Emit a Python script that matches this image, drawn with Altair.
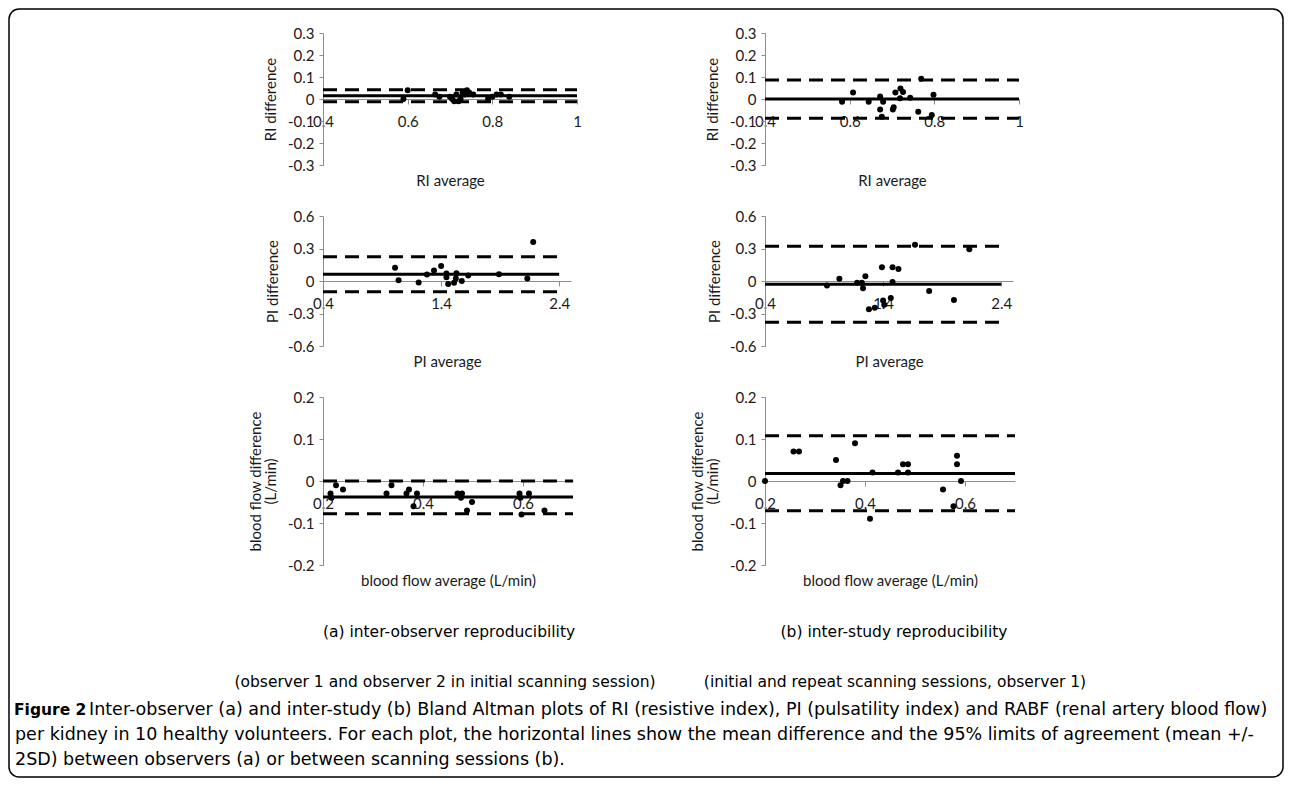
import altair as alt
import pandas as pd

FONT = "Lato"
CAP_FONT = "DejaVu Sans"

# ---------------- data ----------------
# (a) inter-observer, RI
ri_obs_x = [0.60, 0.59, 0.665, 0.675, 0.70, 0.705, 0.71, 0.715, 0.72, 0.725,
            0.73, 0.735, 0.74, 0.745, 0.755, 0.79, 0.80, 0.81, 0.82, 0.84]
ri_obs_y = [0.04, 0.00, 0.02, 0.01, 0.01, 0.00, -0.01, 0.02, -0.01, 0.00,
            0.03, 0.02, 0.04, 0.03, 0.02, 0.00, 0.01, 0.02, 0.02, 0.01]
ri_obs_lim = [0.015, 0.042, -0.012]          # mean, upper, lower

# (b) inter-study, RI
ri_std_x = [0.582, 0.608, 0.645, 0.672, 0.679, 0.672, 0.676, 0.702, 0.704, 0.708,
            0.720, 0.726, 0.719, 0.743, 0.762, 0.769, 0.798, 0.794]
ri_std_y = [-0.013, 0.029, -0.013, 0.011, -0.013, -0.048, -0.081, -0.048, -0.037, 0.029,
            0.048, 0.032, 0.003, 0.006, -0.058, 0.092, 0.019, -0.073]
ri_std_lim = [0.0, 0.086, -0.087]

# (a) inter-observer, PI
pi_obs_x = [1.01, 1.04, 1.21, 1.28, 1.34, 1.40, 1.445, 1.445, 1.46, 1.51,
            1.53, 1.525, 1.575, 1.63, 1.89, 2.18, 2.13]
pi_obs_y = [0.122, 0.006, -0.013, 0.06, 0.097, 0.138, 0.069, 0.034, -0.028, -0.016,
            0.072, 0.022, 0.0, 0.05, 0.062, 0.36, 0.022]
pi_obs_lim = [0.063, 0.225, -0.10]

# (b) inter-study, PI
pi_std_x = [0.925, 1.03, 1.18, 1.23, 1.25, 1.22, 1.28, 1.33, 1.39, 1.40,
            1.41, 1.465, 1.48, 1.48, 1.53, 1.67, 1.79, 2.00, 2.13]
pi_std_y = [-0.042, 0.02, -0.015, -0.068, 0.045, -0.015, -0.26, -0.246, 0.128, -0.18,
            -0.22, -0.157, 0.128, -0.01, 0.11, 0.335, -0.092, -0.175, 0.294]
pi_std_lim = [-0.03, 0.32, -0.38]

# (a) inter-observer, blood flow
bf_obs_x = [0.215, 0.217, 0.226, 0.24, 0.327, 0.337, 0.367, 0.372, 0.381, 0.388,
            0.469, 0.476, 0.478, 0.488, 0.498, 0.593, 0.595, 0.597, 0.612, 0.643]
bf_obs_y = [-0.03, -0.04, -0.01, -0.02, -0.03, -0.01, -0.03, -0.02, -0.06, -0.03,
            -0.03, -0.04, -0.03, -0.07, -0.05, -0.03, -0.04, -0.08, -0.03, -0.07]
bf_obs_lim = [-0.038, 0.0, -0.078]

# (b) inter-study, blood flow
bf_std_x = [0.20, 0.257, 0.268, 0.342, 0.351, 0.356, 0.365, 0.38, 0.415, 0.41,
            0.466, 0.476, 0.486, 0.486, 0.556, 0.577, 0.584, 0.584, 0.592]
bf_std_y = [0.0, 0.07, 0.07, 0.05, -0.01, 0.0, 0.0, 0.09, 0.02, -0.09,
            0.02, 0.04, 0.04, 0.02, -0.02, -0.06, 0.06, 0.04, 0.0]
bf_std_lim = [0.018, 0.108, -0.071]

ri_ticks_x = [0.4, 0.6, 0.8, 1.0]
ri_ticks_y = [-0.3, -0.2, -0.1, 0.0, 0.1, 0.2, 0.3]
pi_ticks_x = [0.4, 1.4, 2.4]
pi_ticks_y = [-0.6, -0.3, 0.0, 0.3, 0.6]
bf_ticks_x = [0.2, 0.4, 0.6]
bf_ticks_y = [-0.2, -0.1, 0.0, 0.1, 0.2]

cap_a1 = "(a)  inter-observer reproducibility"
cap_b1 = "(b) inter-study reproducibility"
cap_a2 = "(observer 1 and observer 2 in initial scanning session)"
cap_b2 = "(initial and repeat scanning sessions, observer 1)"
fig_bold = "Figure 2"
fig_l1 = "Inter-observer (a) and inter-study (b) Bland Altman plots of RI (resistive index), PI (pulsatility index) and RABF (renal artery blood flow)"
fig_l2 = "per kidney in 10 healthy volunteers. For each plot, the horizontal lines show the mean difference and the 95% limits of agreement (mean +/-"
fig_l3 = "2SD) between observers (a) or between scanning sessions (b)."

TXT = "#1a1a1a"
GREY = "#8c8c8c"


def panel(px, py, lim, line_x, xdom, xticks, ydom, yticks, xtitle, ytitle, w, h, tpad):
    pts = pd.DataFrame({"x": px, "y": py})
    mean, upper, lower = lim
    mean_df = pd.DataFrame({"x": line_x, "y": [mean, mean]})
    lim_df = pd.DataFrame({"x": line_x + line_x,
                           "y": [upper, upper, lower, lower],
                           "g": ["u", "u", "l", "l"]})
    xs = alt.Scale(domain=xdom, nice=False, zero=False)
    ys = alt.Scale(domain=ydom, nice=False, zero=False)
    xaxis = alt.Axis(values=xticks, labelExpr="datum.value + ''", offset=-h / 2,
                     title=xtitle, titleY=h / 2 + 15, titleBaseline="middle",
                     tickSize=5, labelPadding=10, labelFlush=False, labelOverlap=False,
                     grid=False, domainColor=GREY, tickColor=GREY,
                     labelFont=FONT, labelFontSize=15, labelColor=TXT,
                     titleFont=FONT, titleFontSize=15, titleFontWeight="normal", titleColor=TXT)
    yaxis = alt.Axis(values=yticks, labelExpr="datum.value + ''", title=ytitle,
                     titlePadding=tpad, tickSize=4, labelPadding=5, labelOverlap=False,
                     grid=False, domainColor=GREY, tickColor=GREY,
                     labelFont=FONT, labelFontSize=15, labelColor=TXT,
                     titleFont=FONT, titleFontSize=15, titleFontWeight="normal", titleColor=TXT,
                     titleLineHeight=15)
    enc = dict(x=alt.X("x:Q", scale=xs, axis=xaxis), y=alt.Y("y:Q", scale=ys, axis=yaxis))
    mline = alt.Chart(mean_df).mark_line(color="black", strokeWidth=3).encode(**enc)
    dline = alt.Chart(lim_df).mark_line(color="black", strokeWidth=3, strokeDash=[14, 8]).encode(
        detail="g:N", **enc)
    dots = alt.Chart(pts).mark_circle(size=36, color="black", opacity=1).encode(**enc)
    return alt.layer(mline, dline, dots).properties(width=w, height=h)


tl = panel(ri_obs_x, ri_obs_y, ri_obs_lim, [0.4, 1.0], [0.4, 1.0], ri_ticks_x, [-0.3, 0.3], ri_ticks_y,
           "RI average", "RI difference", 254, 132, 9)
tr = panel(ri_std_x, ri_std_y, ri_std_lim, [0.4, 1.0], [0.4, 1.0], ri_ticks_x, [-0.3, 0.3], ri_ticks_y,
           "RI average", "RI difference", 254, 132, 9)
ml = panel(pi_obs_x, pi_obs_y, pi_obs_lim, [0.4, 2.4], [0.4, 2.5], pi_ticks_x, [-0.6, 0.6], pi_ticks_y,
           "PI average", "PI difference", 248, 130, 7)
mr = panel(pi_std_x, pi_std_y, pi_std_lim, [0.4, 2.4], [0.4, 2.5], pi_ticks_x, [-0.6, 0.6], pi_ticks_y,
           "PI average", "PI difference", 248, 130, 7)
bl = panel(bf_obs_x, bf_obs_y, bf_obs_lim, [0.2, 0.7], [0.2, 0.7], bf_ticks_x, [-0.2, 0.2], bf_ticks_y,
           "blood flow average (L/min)", ["blood flow difference", "(L/min)"], 250, 168, 9)
br = panel(bf_std_x, bf_std_y, bf_std_lim, [0.2, 0.7], [0.2, 0.7], bf_ticks_x, [-0.2, 0.2], bf_ticks_y,
           "blood flow average (L/min)", ["blood flow difference", "(L/min)"], 250, 168, 9)


def txt(s, x, y, align="center", size=15.5, weight="normal"):
    return alt.Chart(pd.DataFrame({"t": [s]})).mark_text(
        align=align, baseline="middle", font=CAP_FONT, fontSize=size, fontWeight=weight, color="black"
    ).encode(text="t:N", x=alt.value(x), y=alt.value(y))


frame = alt.Chart(pd.DataFrame({"a": [0]})).mark_rect(
    fillOpacity=0, stroke="black", strokeWidth=1.5, cornerRadius=10
).encode(x=alt.value(-314), x2=alt.value(960), y=alt.value(-607), y2=alt.value(161))

caption = alt.layer(
    frame,
    txt(cap_a1, 126, 16),
    txt(cap_b1, 571, 16),
    txt(cap_a2, 122, 66),
    txt(cap_b2, 572, 66),
    txt(fig_bold, -309, 94, align="left", size=15.5, weight="bold"),
    txt(fig_l1, -234, 94, align="left", size=17.5),
    txt(fig_l2, -308, 119, align="left", size=17.5),
    txt(fig_l3, -308, 144, align="left", size=17.5),
).properties(width=200, height=150)

chart = alt.concat(
    tl, tr, ml, mr, bl, br, caption,
    columns=2, spacing={"row": 51, "column": 188}, bounds="flush"
).properties(padding=0).configure_view(stroke=None)

chart.save("out.html", embed_options={"renderer": "svg", "actions": False})
